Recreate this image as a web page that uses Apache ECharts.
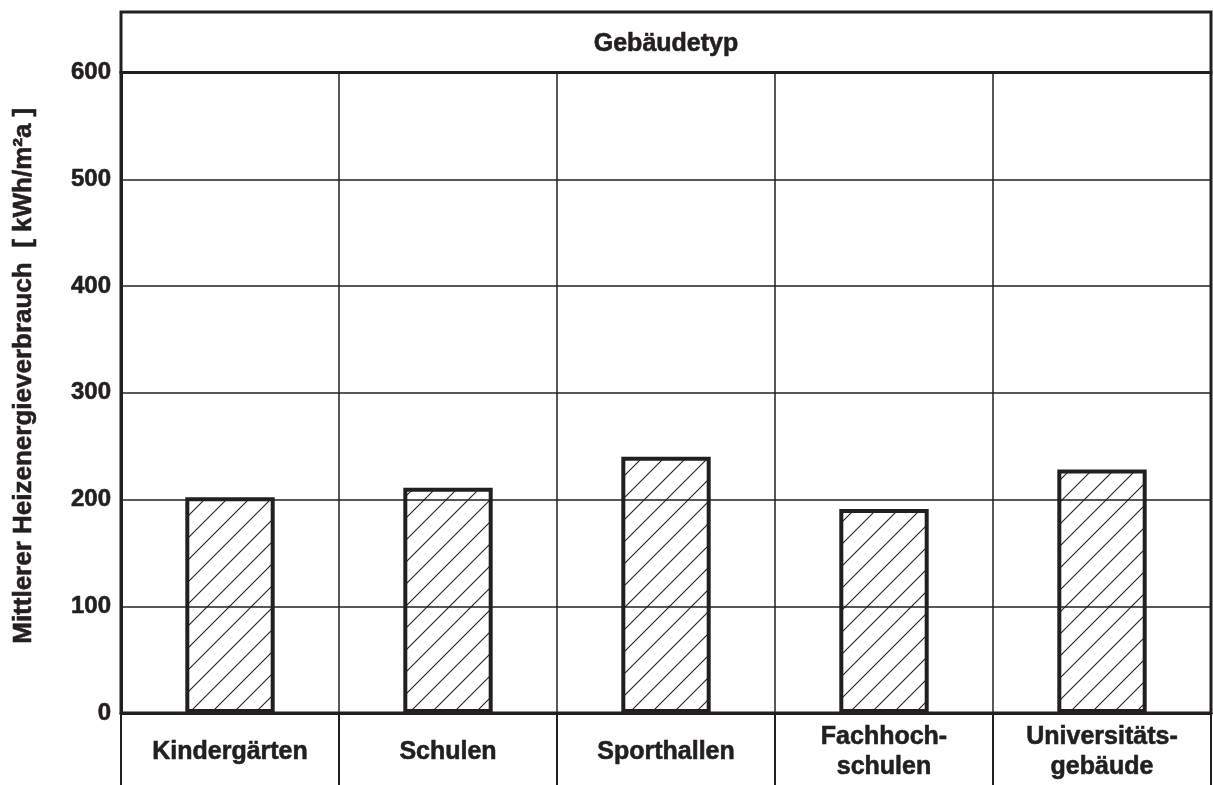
<!DOCTYPE html>
<html>
<head>
<meta charset="utf-8">
<script src="https://cdn.jsdelivr.net/npm/echarts@6/dist/echarts.min.js"></script>
<style>
html,body{margin:0;padding:0;background:#fff;}
#c{width:1213px;height:785px;}
</style>
</head>
<body>
<div id="c"></div>
<script>
const categories = ['Kindergärten', 'Schulen', 'Sporthallen', 'Fachhoch-\nschulen', 'Universitäts-\ngebäude'];
const values = [202, 211, 240, 191, 228];
const headerText = 'Gebäudetyp';
const yTitle = 'Mittlerer Heizenergieverbrauch  [ kWh/m²a ]';
const yMin = 0, yMax = 600, yStep = 100;

const INK = '#231f20';
const FONT = '"Liberation Sans", Arial, Helvetica, sans-serif';
const THICK = {textBorderColor: INK, textBorderWidth: 0.6};

// hatch pattern "/"
const pc = document.createElement('canvas');
pc.width = 22; pc.height = 22;
const g = pc.getContext('2d');
g.strokeStyle = INK; g.lineWidth = 1.1;
g.beginPath();
g.moveTo(-2, 24); g.lineTo(24, -2);
g.moveTo(-2, 2); g.lineTo(2, -2);
g.moveTo(20, 24); g.lineTo(24, 20);
g.stroke();

const chart = echarts.init(document.getElementById('c'), null, {renderer: 'canvas'});
chart.setOption({
  backgroundColor: '#fff',
  animation: false,
  title: {
    text: headerText,
    left: 666, top: 30, textAlign: 'center', padding: 0,
    textStyle: Object.assign({fontFamily: FONT, fontWeight: 'bold', fontSize: 25, color: INK, lineHeight: 28}, THICK)
  },
  grid: [
    {left: 121, right: 2, top: 72.5, bottom: 72, show: true, borderWidth: 3, borderColor: INK, backgroundColor: 'transparent', containLabel: false, outerBoundsMode: 'none'},
    {left: 121, right: 2, top: 12, height: 60.5, show: true, borderWidth: 3, borderColor: INK, backgroundColor: 'transparent', containLabel: false, outerBoundsMode: 'none'}
  ],
  xAxis: [
    {
      type: 'category', data: categories, gridIndex: 0, boundaryGap: true,
      axisLine: {show: true, lineStyle: {color: INK, width: 3}},
      axisTick: {show: true, length: 72, lineStyle: {color: INK, width: 2}},
      splitLine: {show: true, lineStyle: {color: INK, width: 1.5}},
      axisLabel: Object.assign({margin: 39, verticalAlign: 'middle', fontFamily: FONT, fontWeight: 'bold', fontSize: 25, lineHeight: 30, color: INK, interval: 0}, THICK)
    },
    {type: 'value', gridIndex: 1, show: false, min: 0, max: 1}
  ],
  yAxis: [
    {
      type: 'value', gridIndex: 0, min: yMin, max: yMax, interval: yStep,
      name: yTitle, nameLocation: 'middle', nameGap: 84, nameRotate: 90,
      nameTextStyle: Object.assign({fontFamily: FONT, fontWeight: 'bold', fontSize: 26, color: INK, padding: [0, 0, 0, 34]}, THICK),
      axisLine: {show: true, lineStyle: {color: INK, width: 3}},
      axisTick: {show: false},
      splitLine: {show: true, lineStyle: {color: INK, width: 1.5}},
      axisLabel: Object.assign({margin: 10, fontFamily: FONT, fontWeight: 'bold', fontSize: 24, color: INK}, THICK)
    },
    {type: 'value', gridIndex: 1, show: false, min: 0, max: 1}
  ],
  series: [{
    type: 'bar', xAxisIndex: 0, yAxisIndex: 0,
    data: values, barWidth: '41%',
    itemStyle: {color: {image: pc, repeat: 'repeat'}, borderColor: INK, borderWidth: 4},
    emphasis: {disabled: true},
    silent: true
  }]
});
</script>
</body>
</html>
